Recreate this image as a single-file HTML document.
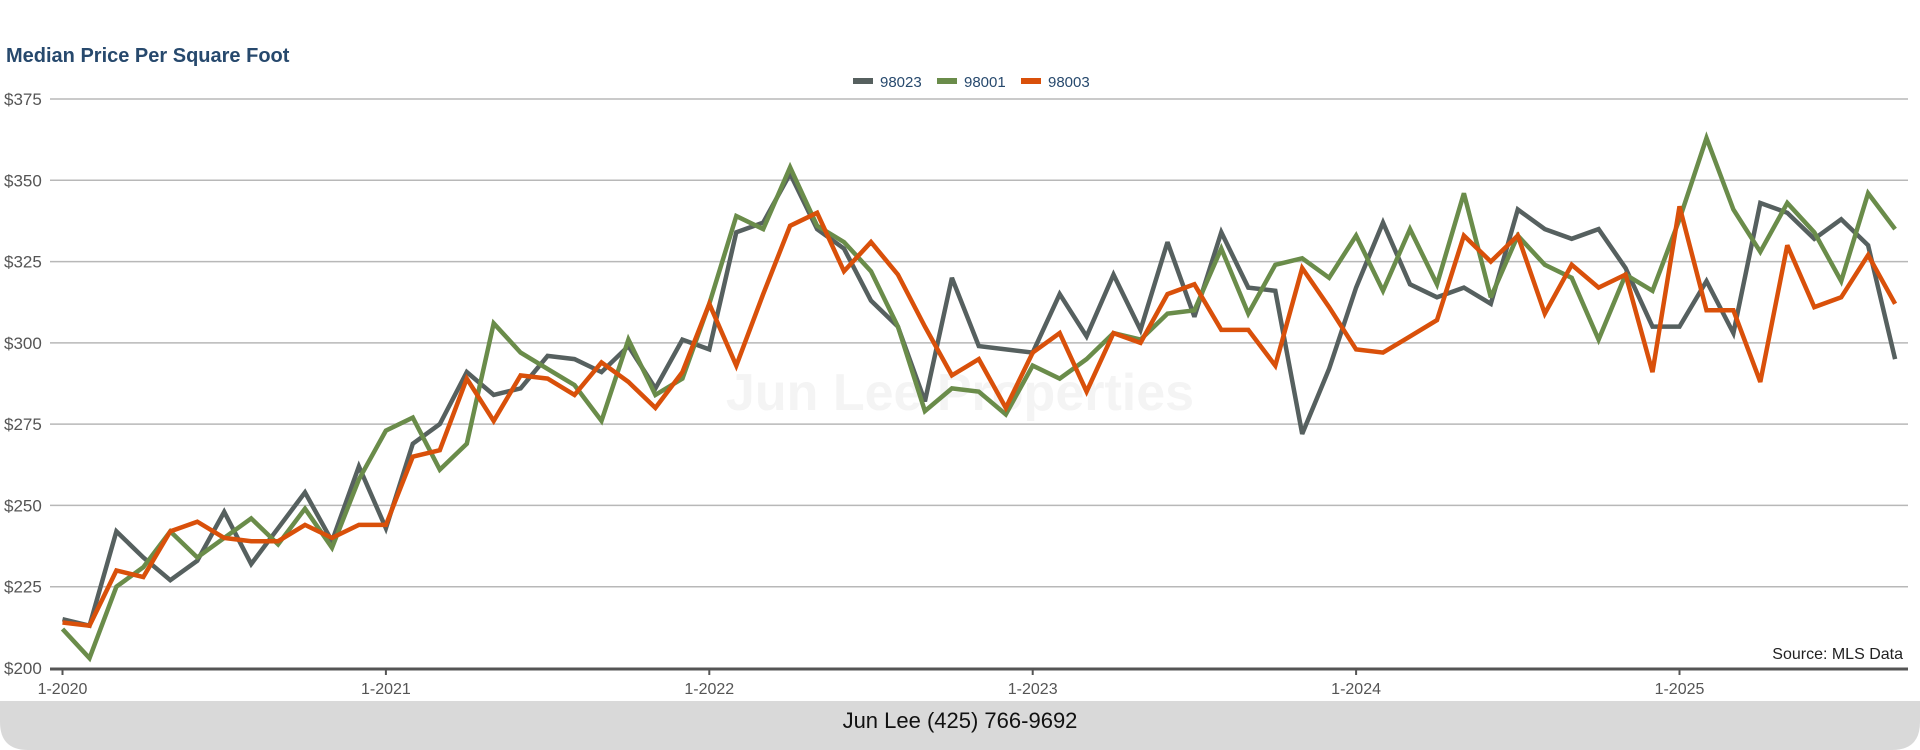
<!DOCTYPE html>
<html><head><meta charset="utf-8"><style>
html,body{margin:0;padding:0;background:#fff;width:1920px;height:750px;overflow:hidden;font-family:"Liberation Sans",sans-serif}
</style></head><body>
<svg id="chart" width="1920" height="750" xmlns="http://www.w3.org/2000/svg">
<rect x="0" y="0" width="1920" height="750" fill="#fff"/>
<path d="M0 701 H1920 V722 Q1920 750 1892 750 H28 Q0 750 0 722 Z" fill="#d9d9d9"/>
<text x="960" y="728" text-anchor="middle" font-size="22" fill="#111">Jun Lee (425) 766-9692</text>
<text x="6" y="62" font-size="20" font-weight="bold" fill="#27496d">Median Price Per Square Foot</text>
<text x="960" y="410" text-anchor="middle" font-size="52" font-weight="bold" fill="#f4f4f4">Jun Lee Properties</text>
<g id="grid"></g>
<g id="xaxis"></g>
<g id="series"></g>
<g id="legend"></g>
<text x="1903" y="659" text-anchor="end" font-size="16" fill="#222">Source: MLS Data</text>
</svg>
<script>
const yTicks = [200,225,250,275,300,325,350,375];
const xTickLabels = ["1-2020","1-2021","1-2022","1-2023","1-2024","1-2025"];
const seriesNames = ["98023","98001","98003"];
const s98023 = [215,213,242,234,227,233,248,232,243,254,239,262,243,269,275,291,284,286,296,295,291,299,286,301,298,334,337,352,335,329,313,305,282,320,299,298,297,315,302,321,304,331,308,334,317,316,272,292,317,337,318,314,317,312,341,335,332,335,323,305,305,319,303,343,340,332,338,330,295];
const s98001 = [212,203,225,231,242,234,240,246,238,249,237,258,273,277,261,269,306,297,292,287,276,301,284,289,312,339,335,354,336,331,322,305,279,286,285,278,293,289,295,303,301,309,310,329,309,324,326,320,333,316,335,318,346,314,333,324,320,301,321,316,338,363,341,328,343,334,319,346,335];
const s98003 = [214,213,230,228,242,245,240,239,239,244,240,244,244,265,267,289,276,290,289,284,294,288,280,291,312,293,315,336,340,322,331,321,305,290,295,280,297,303,285,303,300,315,318,304,304,293,323,311,298,297,302,307,333,325,333,309,324,317,321,291,342,310,310,288,330,311,314,327,312];
const colors = ["#56605f","#6a8c4a","#d9500a"];
const NS = "http://www.w3.org/2000/svg";
const X0 = 62.5, DX = 26.95, YTOP = 99, YBOT = 668;
function xs(i){return X0 + i*DX;}
function ys(v){return YBOT - (v-200)/(375-200)*(YBOT-YTOP);}
function mk(tag, attrs, parent){const e=document.createElementNS(NS,tag);for(const k in attrs)e.setAttribute(k,attrs[k]);parent.appendChild(e);return e;}
const grid=document.getElementById('grid');
yTicks.forEach(v=>{
  const y=ys(v);
  if(v>200){
    const l=mk('line',{x1:50,x2:1908,y1:y,y2:y,stroke:'#b8b8b8','stroke-width':1.5},grid);
    
    
  }
  const t=mk('text',{x:4,y:y+6,'font-size':17,fill:'#555'},grid);
  t.textContent='$'+v;
  
  
});
const xa=document.getElementById('xaxis');
const ax=mk('line',{x1:50,x2:1908,y1:YBOT+1,y2:YBOT+1,stroke:'#555','stroke-width':3},xa);


xTickLabels.forEach((lab,k)=>{
  const x=xs(k*12);
  const tk=mk('line',{x1:x,x2:x,y1:YBOT,y2:YBOT+7,stroke:'#555','stroke-width':2},xa);
  
  
  const t=mk('text',{x:x,y:694,'text-anchor':'middle','font-size':16,fill:'#555'},xa);
  t.textContent=lab;
  
  
});
const sg=document.getElementById('series');
[s98023,s98001,s98003].forEach((arr,si)=>{
  const d=arr.map((v,i)=>(i?'L':'M')+xs(i).toFixed(1)+' '+ys(v).toFixed(1)).join(' ');
  const p=mk('path',{d:d,fill:'none',stroke:colors[si],'stroke-width':4.5,'stroke-linejoin':'miter','stroke-miterlimit':3},sg);
  
  
});
const lg=document.getElementById('legend');
const lx=[853,937,1021];
seriesNames.forEach((n,i)=>{
  const r=mk('rect',{x:lx[i],y:78,width:20,height:6,fill:colors[i]},lg);
  
  
  const t=mk('text',{x:lx[i]+27,y:87,'font-size':15,fill:'#27496d'},lg);
  t.textContent=n;
  
  
});
</script>
</body></html>
